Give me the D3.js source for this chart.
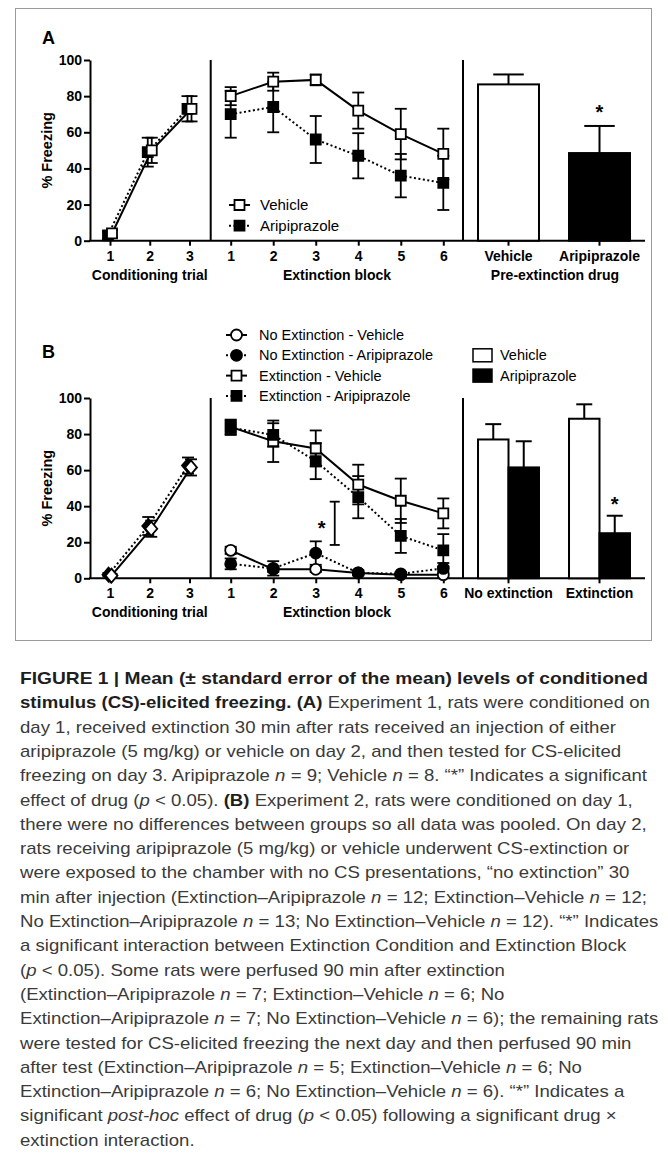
<!DOCTYPE html>
<html><head><meta charset="utf-8">
<script src="https://cdn.jsdelivr.net/npm/d3@7"></script>
<style>
html,body{margin:0;padding:0;background:#fff;}
svg{display:block;}
</style></head>
<body>
<svg id="chart" width="668" height="1157"></svg>
<script>
// ---------------- DATA ----------------
const condTrials = [1, 2, 3];
const extBlocks = [1, 2, 3, 4, 5, 6];
const yTicks = [0, 20, 40, 60, 80, 100];

// Panel A
const condA_vehicle = [4, 50, 73];
const condA_vehicleErr = [2, 7, 7];
const condA_aripiprazole = [3, 49, 73];
const condA_aripiprazoleErr = [2, 8, 7];
const extA_vehicle = [80, 88, 89, 72, 59, 48];
const extA_vehicleErr = [5, 5, 3, 10, 14, 14];
const extA_aripiprazole = [70, 74, 56, 47, 36, 32];
const extA_aripiprazoleErr = [13, 14, 13, 12.5, 12, 15];
const barA_groups = ["Vehicle", "Aripiprazole"];
const barA_values = [86.5, 48.5];
const barA_err = [5.5, 15];

// Panel B
const condB_vehicle = [1.5, 27.5, 61.5];
const condB_vehicleErr = [1, 4.5, 4.5];
const condB_aripiprazole = [2, 29, 62.5];
const condB_aripiprazoleErr = [1, 5, 4.5];
const extB_extVehicle = [84, 76, 72, 52, 43, 36];
const extB_extVehicleErr = [4, 11.5, 10, 11, 12.3, 8.3];
const extB_extAripiprazole = [83.5, 79.5, 65, 45, 23.5, 15.5];
const extB_extAripiprazoleErr = [4, 6.5, 10, 11.7, 9.4, 9];
const extB_noExtVehicle = [15.5, 5, 5, 3, 2, 2];
const extB_noExtVehicleErr = [2, 1.5, 1.5, 1, 1, 1.5];
const extB_noExtAripiprazole = [8, 5.5, 14, 3, 2.5, 5.5];
const extB_noExtAripiprazoleErr = [3, 4, 6.5, 1.5, 1, 3];
const barB_groups = ["No extinction", "Extinction"];
const barB_drugs = ["Vehicle", "Aripiprazole"];
const barB_vehicle = [77, 88.5];
const barB_vehicleErr = [8.5, 8];
const barB_aripiprazole = [61.5, 25];
const barB_aripiprazoleErr = [14.5, 9.7];
const interactionBracket = [18.5, 42.5];

// ---------------- DRAW ----------------
const F = "'Liberation Sans', Arial, Helvetica, sans-serif";
const svg = d3.select("#chart");

svg.append("rect").attr("x", 15.5).attr("y", 8.5).attr("width", 636).attr("height", 632)
  .attr("fill", "none").attr("stroke", "#9a9a9a").attr("stroke-width", 1);

const X0 = 90, XDIV1 = 210.7, XDIV2 = 463, XEND = 645;
const xCond = d3.scalePoint(condTrials, [110, 189.5]);
const xExt = d3.scalePoint(extBlocks, [230.7, 443.3]);

function panelFrame(y, opts) {
  const g = svg.append("g");
  const ya = g.append("g").attr("transform", `translate(${X0},0)`)
    .call(d3.axisLeft(y).tickValues(yTicks).tickSize(6).tickPadding(2).tickSizeOuter(0));
  ya.selectAll("path,line").attr("stroke", "#000").attr("stroke-width", 2);
  ya.selectAll("text").attr("font-family", F).attr("font-weight", "bold").attr("font-size", 14).attr("fill", "#000");
  g.append("line").attr("x1", X0 - 1).attr("x2", XEND).attr("y1", y(0)).attr("y2", y(0))
    .attr("stroke", "#000").attr("stroke-width", 2);
  [XDIV1, XDIV2].forEach(xd => g.append("line").attr("x1", xd).attr("x2", xd)
    .attr("y1", y(100)).attr("y2", y(0)).attr("stroke", "#000").attr("stroke-width", 2));
  function xAxis(scale) {
    const a = g.append("g").attr("transform", `translate(0,${y(0)})`)
      .call(d3.axisBottom(scale).tickSize(5).tickPadding(5).tickSizeOuter(0));
    a.select(".domain").remove();
    a.selectAll("line").attr("stroke", "#000").attr("stroke-width", 2);
    a.selectAll("text").attr("font-family", F).attr("font-weight", "bold").attr("font-size", 14).attr("fill", "#000");
  }
  xAxis(xCond); xAxis(xExt); xAxis(opts.barScale);
  const ty = y(0) + 39;
  const t = (x, s) => g.append("text").attr("x", x).attr("y", ty).attr("text-anchor", "middle")
    .attr("font-family", F).attr("font-weight", "bold").attr("font-size", 14).text(s);
  t((xCond(1) + xCond(3)) / 2, "Conditioning trial");
  t((xExt(1) + xExt(6)) / 2, "Extinction block");
  if (opts.barTitle) t((XDIV2 + XEND) / 2 + 1, opts.barTitle);
  const ym = (y(0) + y(100)) / 2;
  g.append("text").attr("transform", `translate(52,${ym}) rotate(-90)`).attr("text-anchor", "middle")
    .attr("font-family", F).attr("font-weight", "bold").attr("font-size", 14.5).text("% Freezing");
  return g;
}

function shapePath(shape) {
  if (shape === "square") return "M-5,-5h10v10h-10Z";
  if (shape === "diamond") return "M0,-7L6,0L0,7L-6,0Z";
  return null;
}
function marker(g, x, y, shape, filled) {
  if (shape === "circle") {
    g.append("circle").attr("cx", x).attr("cy", y).attr("r", 5.5)
      .attr("fill", filled ? "#000" : "#fff").attr("stroke", "#000").attr("stroke-width", 1.8);
  } else {
    g.append("path").attr("d", shapePath(shape)).attr("transform", `translate(${x},${y})`)
      .attr("fill", filled ? "#000" : "#fff").attr("stroke", "#000").attr("stroke-width", 1.8);
  }
}
function errBar(g, x, ylo, yhi, cap) {
  g.append("line").attr("x1", x).attr("x2", x).attr("y1", ylo).attr("y2", yhi).attr("stroke", "#000").attr("stroke-width", 1.8);
  [ylo, yhi].forEach(yy => g.append("line").attr("x1", x - cap / 2).attr("x2", x + cap / 2)
    .attr("y1", yy).attr("y2", yy).attr("stroke", "#000").attr("stroke-width", 1.8));
}
function seriesPts(xs, vals, errs, xs_scale, y, dx) {
  return xs.map((d, i) => ({ x: xs_scale(d) + dx, y: y(vals[i]), lo: y(Math.max(0, vals[i] - errs[i])), hi: y(vals[i] + errs[i]) }));
}
function drawLine(g, pts, dashed) {
  g.append("path").attr("d", d3.line().x(p => p.x).y(p => p.y)(pts)).attr("fill", "none")
    .attr("stroke", "#000").attr("stroke-width", 2).attr("stroke-dasharray", dashed ? "2,2.5" : null);
}
function drawSeriesSet(g, list) {
  list.forEach(s => drawLine(g, s.pts, s.dashed));
  list.forEach(s => s.pts.forEach(p => errBar(g, p.x, p.lo, p.hi, 12)));
  list.forEach(s => s.pts.forEach(p => marker(g, p.x, p.y, s.shape, s.filled)));
}

// ---------- Panel A ----------
const yA = d3.scaleLinear([0, 100], [240.7, 60]);
const xBarA = d3.scaleBand(barA_groups, [XDIV2, XEND]).paddingInner(0.33).paddingOuter(0.165);
const gA = panelFrame(yA, { barScale: xBarA, barTitle: "Pre-extinction drug" });
svg.append("text").attr("x", 42).attr("y", 43.5).attr("font-family", F).attr("font-weight", "bold").attr("font-size", 18).text("A");

drawSeriesSet(gA, [
  { pts: seriesPts(condTrials, condA_aripiprazole, condA_aripiprazoleErr, xCond, yA, -2), dashed: true, shape: "square", filled: true },
  { pts: seriesPts(condTrials, condA_vehicle, condA_vehicleErr, xCond, yA, 2), dashed: false, shape: "square", filled: false }
]);
drawSeriesSet(gA, [
  { pts: seriesPts(extBlocks, extA_aripiprazole, extA_aripiprazoleErr, xExt, yA, 0), dashed: true, shape: "square", filled: true },
  { pts: seriesPts(extBlocks, extA_vehicle, extA_vehicleErr, xExt, yA, 0), dashed: false, shape: "square", filled: false }
]);
barA_groups.forEach((gname, i) => {
  const x = xBarA(gname), w = xBarA.bandwidth(), cx = x + w / 2;
  const top = yA(barA_values[i]), ehi = yA(barA_values[i] + barA_err[i]);
  gA.append("line").attr("x1", cx).attr("x2", cx).attr("y1", top).attr("y2", ehi).attr("stroke", "#000").attr("stroke-width", 2);
  gA.append("line").attr("x1", cx - w / 4).attr("x2", cx + w / 4).attr("y1", ehi).attr("y2", ehi).attr("stroke", "#000").attr("stroke-width", 2);
  gA.append("rect").attr("x", x).attr("y", top).attr("width", w).attr("height", yA(0) - top)
    .attr("fill", i === 0 ? "#fff" : "#000").attr("stroke", "#000").attr("stroke-width", 2);
});
gA.append("text").attr("x", xBarA("Aripiprazole") + xBarA.bandwidth() / 2).attr("y", yA(barA_values[1] + barA_err[1]) - 7)
  .attr("text-anchor", "middle").attr("font-family", F).attr("font-weight", "bold").attr("font-size", 20).text("*");

[["Vehicle", false, false, 205], ["Aripiprazole", true, true, 225.7]].forEach(([lab, filled, dashed, ly]) => {
  gA.append("line").attr("x1", 229).attr("x2", 250).attr("y1", ly).attr("y2", ly).attr("stroke", "#000").attr("stroke-width", 2)
    .attr("stroke-dasharray", dashed ? "2,2.5" : null);
  marker(gA, 239.5, ly, "square", filled);
  gA.append("text").attr("x", 260).attr("y", ly).attr("dy", "0.35em").attr("font-family", F).attr("font-size", 15).text(lab);
});

// ---------- Panel B ----------
const yB = d3.scaleLinear([0, 100], [578.3, 398]);
const xBarB = d3.scaleBand(barB_groups, [XDIV2, XEND]).paddingInner(0.33).paddingOuter(0.165);
const xSubB = d3.scaleBand(barB_drugs, [0, xBarB.bandwidth()]);
const gB = panelFrame(yB, { barScale: xBarB, barTitle: null });
svg.append("text").attr("x", 42).attr("y", 358).attr("font-family", F).attr("font-weight", "bold").attr("font-size", 18).text("B");

drawSeriesSet(gB, [
  { pts: seriesPts(condTrials, condB_aripiprazole, condB_aripiprazoleErr, xCond, yB, -1.5), dashed: true, shape: "diamond", filled: true },
  { pts: seriesPts(condTrials, condB_vehicle, condB_vehicleErr, xCond, yB, 1.5), dashed: false, shape: "diamond", filled: false }
]);
drawSeriesSet(gB, [
  { pts: seriesPts(extBlocks, extB_noExtVehicle, extB_noExtVehicleErr, xExt, yB, 0), dashed: false, shape: "circle", filled: false },
  { pts: seriesPts(extBlocks, extB_noExtAripiprazole, extB_noExtAripiprazoleErr, xExt, yB, 0), dashed: true, shape: "circle", filled: true },
  { pts: seriesPts(extBlocks, extB_extVehicle, extB_extVehicleErr, xExt, yB, 0), dashed: false, shape: "square", filled: false },
  { pts: seriesPts(extBlocks, extB_extAripiprazole, extB_extAripiprazoleErr, xExt, yB, 0), dashed: true, shape: "square", filled: true }
]);
{
  const bx = xExt(3) + 19;
  errBar(gB, bx, yB(interactionBracket[0]), yB(interactionBracket[1]), 10);
  gB.append("text").attr("x", xExt(3) + 6).attr("y", yB(30) + 11).attr("text-anchor", "middle")
    .attr("font-family", F).attr("font-weight", "bold").attr("font-size", 20).text("*");
}
barB_groups.forEach((gname, gi) => {
  [[barB_vehicle, barB_vehicleErr, "#fff"], [barB_aripiprazole, barB_aripiprazoleErr, "#000"]].forEach(([vals, errs, fill], di) => {
    const x = xBarB(gname) + xSubB(barB_drugs[di]), w = xSubB.bandwidth(), cx = x + w / 2;
    const top = yB(vals[gi]), ehi = yB(vals[gi] + errs[gi]);
    gB.append("line").attr("x1", cx).attr("x2", cx).attr("y1", top).attr("y2", ehi).attr("stroke", "#000").attr("stroke-width", 2);
    gB.append("line").attr("x1", cx - 8).attr("x2", cx + 8).attr("y1", ehi).attr("y2", ehi).attr("stroke", "#000").attr("stroke-width", 2);
    gB.append("rect").attr("x", x).attr("y", top).attr("width", w).attr("height", yB(0) - top)
      .attr("fill", fill).attr("stroke", "#000").attr("stroke-width", 2);
  });
});
{
  const cx = xBarB("Extinction") + xSubB("Aripiprazole") + xSubB.bandwidth() / 2;
  gB.append("text").attr("x", cx).attr("y", yB(barB_aripiprazole[1] + barB_aripiprazoleErr[1]) - 5)
    .attr("text-anchor", "middle").attr("font-family", F).attr("font-weight", "bold").attr("font-size", 20).text("*");
}
const legB = [
  ["No Extinction - Vehicle", "circle", false, false],
  ["No Extinction - Aripiprazole", "circle", true, true],
  ["Extinction - Vehicle", "square", false, false],
  ["Extinction - Aripiprazole", "square", true, true]
];
legB.forEach(([lab, shape, filled, dashed], i) => {
  const ly = 335 + i * 20.3;
  gB.append("line").attr("x1", 226).attr("x2", 247).attr("y1", ly).attr("y2", ly).attr("stroke", "#000").attr("stroke-width", 2)
    .attr("stroke-dasharray", dashed ? "2,2.5" : null);
  marker(gB, 236.5, ly, shape, filled);
  gB.append("text").attr("x", 259).attr("y", ly).attr("dy", "0.35em").attr("font-family", F).attr("font-size", 14.5).text(lab);
});
barB_drugs.forEach((lab, i) => {
  const ly = 355.3 + i * 20.3;
  gB.append("rect").attr("x", 473).attr("y", ly - 6.5).attr("width", 19).attr("height", 13)
    .attr("fill", i === 0 ? "#fff" : "#000").attr("stroke", "#000").attr("stroke-width", 1.5);
  gB.append("text").attr("x", 500).attr("y", ly).attr("dy", "0.35em").attr("font-family", F).attr("font-size", 14.5).text(lab);
});

// ---------- Caption ----------
const captionLines = [
  [["b", "FIGURE 1 | Mean (± standard error of the mean) levels of conditioned"]],
  [["b", "stimulus (CS)-elicited freezing. (A)"], ["r", " Experiment 1, rats were conditioned on"]],
  [["r", "day 1, received extinction 30 min after rats received an injection of either"]],
  [["r", "aripiprazole (5 mg/kg) or vehicle on day 2, and then tested for CS-elicited"]],
  [["r", "freezing on day 3. Aripiprazole "], ["i", "n"], ["r", " = 9; Vehicle "], ["i", "n"], ["r", " = 8. “*” Indicates a significant"]],
  [["r", "effect of drug ("], ["i", "p"], ["r", " < 0.05). "], ["b", "(B)"], ["r", " Experiment 2, rats were conditioned on day 1,"]],
  [["r", "there were no differences between groups so all data was pooled. On day 2,"]],
  [["r", "rats receiving aripiprazole (5 mg/kg) or vehicle underwent CS-extinction or"]],
  [["r", "were exposed to the chamber with no CS presentations, “no extinction” 30"]],
  [["r", "min after injection (Extinction–Aripiprazole "], ["i", "n"], ["r", " = 12; Extinction–Vehicle "], ["i", "n"], ["r", " = 12;"]],
  [["r", "No Extinction–Aripiprazole "], ["i", "n"], ["r", " = 13; No Extinction–Vehicle "], ["i", "n"], ["r", " = 12). “*” Indicates"]],
  [["r", "a significant interaction between Extinction Condition and Extinction Block"]],
  [["r", "("], ["i", "p"], ["r", " < 0.05). Some rats were perfused 90 min after extinction"]],
  [["r", "(Extinction–Aripiprazole "], ["i", "n"], ["r", " = 7; Extinction–Vehicle "], ["i", "n"], ["r", " = 6; No"]],
  [["r", "Extinction–Aripiprazole "], ["i", "n"], ["r", " = 7; No Extinction–Vehicle "], ["i", "n"], ["r", " = 6); the remaining rats"]],
  [["r", "were tested for CS-elicited freezing the next day and then perfused 90 min"]],
  [["r", "after test (Extinction–Aripiprazole "], ["i", "n"], ["r", " = 5; Extinction–Vehicle "], ["i", "n"], ["r", " = 6; No"]],
  [["r", "Extinction–Aripiprazole "], ["i", "n"], ["r", " = 6; No Extinction–Vehicle "], ["i", "n"], ["r", " = 6). “*” Indicates a"]],
  [["r", "significant "], ["i", "post-hoc"], ["r", " effect of drug ("], ["i", "p"], ["r", " < 0.05) following a significant drug ×"]],
  [["r", "extinction interaction."]]
];
const capG = svg.append("g");
const capNodes = captionLines.map((segs, i) => {
  const t = capG.append("text").attr("x", 20).attr("y", 684 + i * 24.3)
    .attr("font-family", F).attr("font-size", 17).attr("fill", "#3a3a3a");
  segs.forEach(([k, s]) => {
    const ts = t.append("tspan").text(s);
    if (k === "b") ts.attr("font-weight", "bold").attr("fill", "#1e1e1e");
    if (k === "i") ts.attr("font-style", "italic");
  });
  return t;
});
const wRef = capNodes[4].node().getComputedTextLength();
const kR = 627 / wRef;
const w0 = capNodes[0].node().getComputedTextLength();
capNodes.forEach((t, i) => {
  const w = t.node().getComputedTextLength();
  const k = i === 0 ? 628 / w0 : kR;
  t.attr("textLength", w * k).attr("lengthAdjust", "spacingAndGlyphs");
});
</script>
</body></html>
